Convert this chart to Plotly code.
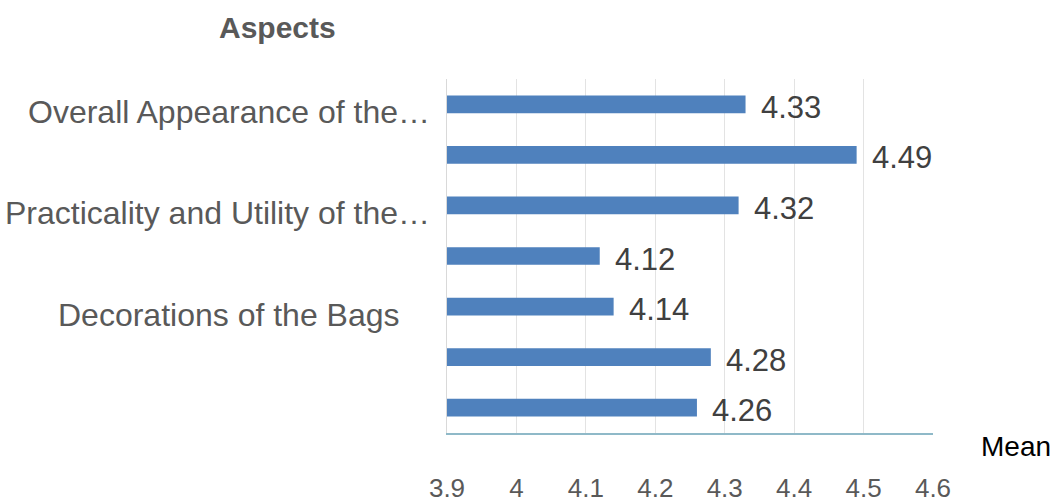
import plotly.graph_objects as go

# ---- data ----
category_labels = [
    "Overall Appearance of the…",
    "",
    "Practicality and Utility of the…",
    "",
    "Decorations of the Bags",
    "",
    "",
]
mean_values = [4.33, 4.49, 4.32, 4.12, 4.14, 4.28, 4.26]
value_text = ["4.33", "4.49", "4.32", "4.12", "4.14", "4.28", "4.26"]
x_tick_values = [3.9, 4.0, 4.1, 4.2, 4.3, 4.4, 4.5, 4.6]
x_tick_labels = ["3.9", "4", "4.1", "4.2", "4.3", "4.4", "4.5", "4.6"]
axis_title_x = "Mean"
axis_title_y = "Aspects"

positions = list(range(len(mean_values)))

FONT = "Liberation Sans, Arial, sans-serif"
BAR = "#4f81bd"
GRAY = "#595959"

L, R, T, B = 447, 126, 79, 70
W, H = 1059, 503
pw = W - L - R
ph = H - T - B


def px_to_paper(px, py):
    return (px - L) / pw, 1 - (py - T) / ph


fig = go.Figure()
fig.add_trace(go.Bar(
    x=mean_values,
    y=positions,
    orientation="h",
    marker=dict(color=BAR, line=dict(width=0)),
    width=0.35,
    hoverinfo="skip",
))

annotations = []
for i, (v, t) in enumerate(zip(mean_values, value_text)):
    annotations.append(dict(
        x=v, y=i, xref="x", yref="y", text=t, showarrow=False,
        xanchor="left", yanchor="middle", xshift=13, yshift=-3,
        font=dict(family=FONT, size=31, color="#404040"),
    ))

label_extra_shift = {"Decorations of the Bags": 30}
for i, lab in enumerate(category_labels):
    if not lab:
        continue
    annotations.append(dict(
        x=0, y=i, xref="paper", yref="y", text=lab, showarrow=False,
        xanchor="right", yanchor="middle",
        xshift=-15 - label_extra_shift.get(lab, 0), yshift=-8,
        font=dict(family=FONT, size=32, color=GRAY),
    ))

ax, ay = px_to_paper(277, 27)
annotations.append(dict(
    x=ax, y=ay, xref="paper", yref="paper", text="<b>" + axis_title_y + "</b>",
    showarrow=False, xanchor="center", yanchor="middle",
    font=dict(family=FONT, size=30, color=GRAY),
))

mx, my = px_to_paper(1053, 446)
annotations.append(dict(
    x=mx, y=my, xref="paper", yref="paper", text=axis_title_x, showarrow=False,
    xanchor="right", yanchor="middle",
    font=dict(family=FONT, size=28, color="#000000"),
))

fig.update_layout(
    width=W, height=H,
    margin=dict(l=L, r=R, t=T, b=B, autoexpand=False),
    paper_bgcolor="white", plot_bgcolor="white",
    showlegend=False,
    font=dict(family=FONT, color=GRAY),
    annotations=annotations,
    xaxis=dict(
        range=[3.9, 4.6],
        tickvals=x_tick_values,
        ticktext=x_tick_labels,
        showgrid=True, gridcolor="#e3e3e3", gridwidth=1,
        zeroline=False,
        showline=True, linecolor="#8fb9c8", linewidth=1.5,
        ticks="", ticklabelstandoff=31,
        tickfont=dict(family=FONT, size=26, color=GRAY),
        automargin=False,
        fixedrange=True,
    ),
    yaxis=dict(
        range=[6.5, -0.5],
        showticklabels=False,
        showgrid=False, zeroline=False,
        showline=True, linecolor="#d9d9d9", linewidth=1,
        ticks="",
        automargin=False,
        fixedrange=True,
    ),
)

fig.write_html("out.html")
